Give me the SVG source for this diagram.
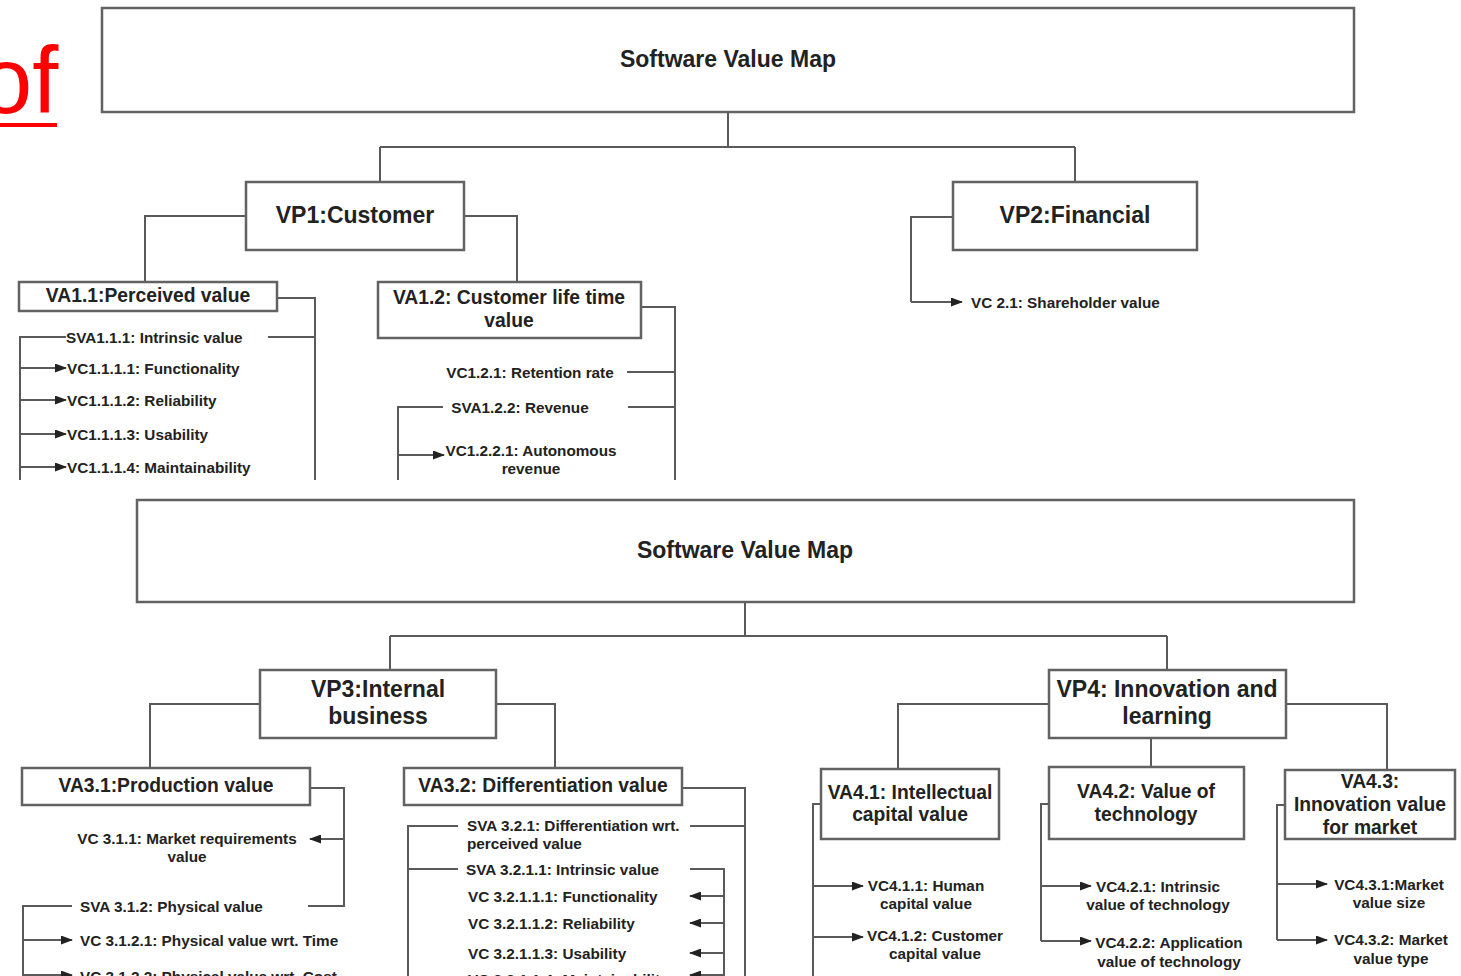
<svg xmlns="http://www.w3.org/2000/svg" width="1461" height="976" viewBox="0 0 1461 976">
<style>
.box{fill:#fff;stroke:#626262;stroke-width:2.5}
.ln{fill:none;stroke:#5a5a5a;stroke-width:2}
.ar{fill:none;stroke:#5a5a5a;stroke-width:2;marker-end:url(#ah)}
.t{font-family:"Liberation Sans",Arial,sans-serif;font-weight:bold;fill:#222}
.big{font-size:23px}
.mid{font-size:19.3px}
.sm{font-size:15.3px}
.c{text-anchor:middle}
</style>
<defs>
<marker id="ah" markerWidth="12" markerHeight="9" refX="11" refY="4.5" orient="auto" markerUnits="userSpaceOnUse">
<path d="M0,0 L12,4.5 L0,9 z" fill="#222"/>
</marker>
</defs>
<rect width="1461" height="976" fill="#fff"/>

<g id="red-of">
<text x="-20" y="113" font-family="Liberation Sans, Arial, sans-serif" font-size="94" fill="#ff0000">of</text>
<rect x="0" y="123" width="57" height="4" fill="#ff0000"/>
</g>

<g id="connectors">
<path class="ln" d="M728,112 V147 M380,147 H1075 M380,147 V182 M1075,147 V182"/>
<path class="ln" d="M246,216 H145 V282 M464,216 H517 V282"/>
<path class="ln" d="M277,298 H315 V480 M268,337 H315"/>
<path class="ln" d="M66,337 H20 V480"/>
<path class="ar" d="M20,368 H66"/>
<path class="ar" d="M20,400 H66"/>
<path class="ar" d="M20,434 H66"/>
<path class="ar" d="M20,467 H66"/>
<path class="ln" d="M641,307 H675 V480 M627,372 H675 M628,407 H675"/>
<path class="ln" d="M443,407 H398 V480"/>
<path class="ar" d="M398,455 H444"/>
<path class="ln" d="M953,217 H911 V302"/>
<path class="ar" d="M911,302 H962"/>
<path class="ln" d="M745,602 V636 M390,636 H1167 M390,636 V670 M1167,636 V670"/>
<path class="ln" d="M260,704 H150 V768 M496,704 H555 V768"/>
<path class="ln" d="M310,788 H344 V906 H308"/>
<path class="ar" d="M344,839 H310"/>
<path class="ln" d="M72,906 H23 V976"/>
<path class="ar" d="M23,940 H72"/>
<path class="ar" d="M23,975 H72"/>
<path class="ln" d="M682,788 H745 V976 M690,826 H745"/>
<path class="ln" d="M458,826 H408 V976 M408,869 H458"/>
<path class="ln" d="M690,869 H724 V976"/>
<path class="ar" d="M724,896 H690"/>
<path class="ar" d="M724,923 H690"/>
<path class="ar" d="M724,953 H690"/>
<path class="ar" d="M724,975 H690"/>
<path class="ln" d="M1049,704 H898 V769 M1151,738 V767 M1286,704 H1387 V771"/>
<path class="ln" d="M821,804 H813 V976"/>
<path class="ar" d="M813,886 H863"/>
<path class="ar" d="M813,937 H863"/>
<path class="ln" d="M1049,804 H1041 V941"/>
<path class="ar" d="M1041,886 H1091"/>
<path class="ar" d="M1041,941 H1091"/>
<path class="ln" d="M1285,805 H1277 V940"/>
<path class="ar" d="M1277,884 H1327"/>
<path class="ar" d="M1277,940 H1327"/>
</g>

<rect x="0" y="481" width="1461" height="16" fill="#fff"/>

<g id="svm-top">
<rect class="box" x="102" y="8" width="1252" height="104"/>
<text class="t big c" x="728" y="67">Software Value Map</text>
</g>
<g id="vp1">
<rect class="box" x="246" y="182" width="218" height="68"/>
<text class="t big c" x="355" y="223">VP1:Customer</text>
</g>
<g id="vp2">
<rect class="box" x="953" y="182" width="244" height="68"/>
<text class="t big c" x="1075" y="223">VP2:Financial</text>
</g>
<g id="va11">
<rect class="box" x="19" y="282" width="258" height="29"/>
<text class="t mid c" x="148" y="302">VA1.1:Perceived value</text>
</g>
<g id="sva111"><text class="t sm" x="66" y="342.5">SVA1.1.1: Intrinsic value</text></g>
<g id="vc1111"><text class="t sm" x="67" y="373.5">VC1.1.1.1: Functionality</text></g>
<g id="vc1112"><text class="t sm" x="67" y="405.5">VC1.1.1.2: Reliability</text></g>
<g id="vc1113"><text class="t sm" x="67" y="439.5">VC1.1.1.3: Usability</text></g>
<g id="vc1114"><text class="t sm" x="67" y="472.5">VC1.1.1.4: Maintainability</text></g>
<g id="va12">
<rect class="box" x="378" y="282" width="263" height="56"/>
<text class="t mid c" x="509" y="304">VA1.2: Customer life time</text>
<text class="t mid c" x="509" y="327">value</text>
</g>
<g id="vc121"><text class="t sm c" x="530" y="377.5">VC1.2.1: Retention rate</text></g>
<g id="sva122"><text class="t sm c" x="520" y="412.5">SVA1.2.2: Revenue</text></g>
<g id="vc1221">
<text class="t sm c" x="531" y="455.5">VC1.2.2.1: Autonomous</text>
<text class="t sm c" x="531" y="473.5">revenue</text>
</g>
<g id="vc21"><text class="t sm" x="971" y="307.5">VC 2.1: Shareholder value</text></g>

<g id="svm-bottom">
<rect class="box" x="137" y="500" width="1217" height="102"/>
<text class="t big c" x="745" y="558">Software Value Map</text>
</g>
<g id="vp3">
<rect class="box" x="260" y="670" width="236" height="68"/>
<text class="t big c" x="378" y="697">VP3:Internal</text>
<text class="t big c" x="378" y="724">business</text>
</g>
<g id="vp4">
<rect class="box" x="1049" y="670" width="237" height="68"/>
<text class="t big c" x="1167" y="697">VP4: Innovation and</text>
<text class="t big c" x="1167" y="724">learning</text>
</g>
<g id="va31">
<rect class="box" x="22" y="768" width="288" height="37"/>
<text class="t mid c" x="166" y="792">VA3.1:Production value</text>
</g>
<g id="vc311">
<text class="t sm c" x="187" y="843.5">VC 3.1.1: Market requirements</text>
<text class="t sm c" x="187" y="861.5">value</text>
</g>
<g id="sva312"><text class="t sm" x="80" y="911.5">SVA 3.1.2: Physical value</text></g>
<g id="vc3121"><text class="t sm" x="80" y="945.5">VC 3.1.2.1: Physical value wrt. Time</text></g>
<g id="vc3122"><text class="t sm" x="80" y="982">VC 3.1.2.2: Physical value wrt. Cost</text></g>
<g id="va32">
<rect class="box" x="404" y="768" width="278" height="37"/>
<text class="t mid c" x="543" y="792">VA3.2: Differentiation value</text>
</g>
<g id="sva321">
<text class="t sm" x="467" y="830.5">SVA 3.2.1: Differentiation wrt.</text>
<text class="t sm" x="467" y="848.5">perceived value</text>
</g>
<g id="sva3211"><text class="t sm" x="466" y="874.5">SVA 3.2.1.1: Intrinsic value</text></g>
<g id="vc32111"><text class="t sm" x="468" y="901.5">VC 3.2.1.1.1: Functionality</text></g>
<g id="vc32112"><text class="t sm" x="468" y="928.5">VC 3.2.1.1.2: Reliability</text></g>
<g id="vc32113"><text class="t sm" x="468" y="958.5">VC 3.2.1.1.3: Usability</text></g>
<g id="vc32114"><text class="t sm" x="468" y="985">VC 3.2.1.1.4: Maintainability</text></g>
<g id="va41">
<rect class="box" x="821" y="769" width="178" height="70"/>
<text class="t mid c" x="910" y="799">VA4.1: Intellectual</text>
<text class="t mid c" x="910" y="821">capital value</text>
</g>
<g id="vc411">
<text class="t sm c" x="926" y="890.5">VC4.1.1: Human</text>
<text class="t sm c" x="926" y="908.5">capital value</text>
</g>
<g id="vc412">
<text class="t sm c" x="935" y="940.5">VC4.1.2: Customer</text>
<text class="t sm c" x="935" y="958.5">capital value</text>
</g>
<g id="va42">
<rect class="box" x="1049" y="767" width="195" height="72"/>
<text class="t mid c" x="1146" y="798">VA4.2: Value of</text>
<text class="t mid c" x="1146" y="821">technology</text>
</g>
<g id="vc421">
<text class="t sm c" x="1158" y="891.5">VC4.2.1: Intrinsic</text>
<text class="t sm c" x="1158" y="909.5">value of technology</text>
</g>
<g id="vc422">
<text class="t sm c" x="1169" y="947.5">VC4.2.2: Application</text>
<text class="t sm c" x="1169" y="966.5">value of technology</text>
</g>
<g id="va43">
<rect class="box" x="1285" y="770" width="170" height="69"/>
<text class="t mid c" x="1370" y="788">VA4.3:</text>
<text class="t mid c" x="1370" y="811">Innovation value</text>
<text class="t mid c" x="1370" y="834">for market</text>
</g>
<g id="vc431">
<text class="t sm c" x="1389" y="889.5">VC4.3.1:Market</text>
<text class="t sm c" x="1389" y="907.5">value size</text>
</g>
<g id="vc432">
<text class="t sm c" x="1391" y="944.5">VC4.3.2: Market</text>
<text class="t sm c" x="1391" y="963.5">value type</text>
</g>
</svg>
